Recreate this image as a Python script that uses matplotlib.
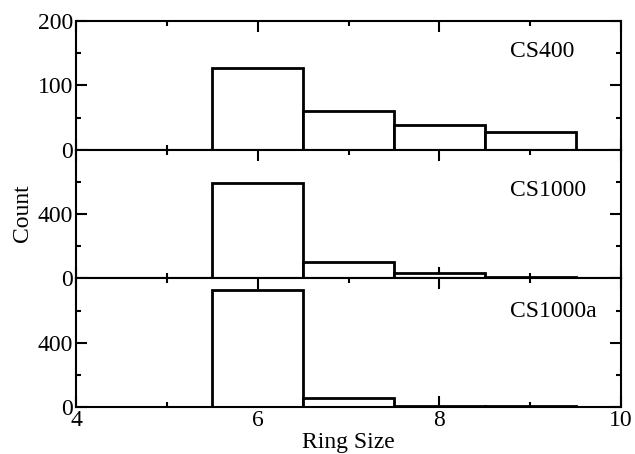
import matplotlib
matplotlib.use('Agg')
import matplotlib.pyplot as plt
from matplotlib.ticker import MultipleLocator, FixedLocator

plt.rcParams['font.family'] = 'Liberation Serif'
plt.rcParams['font.size'] = 17

# Ring size distributions for the three structures
ring_size = [4, 5, 6, 7, 8, 9]
cs400 = [0, 0, 127, 60, 38, 27]
cs1000 = [0, 0, 590, 104, 36, 9]
cs1000a = [0, 0, 729, 55, 8, 4]

names = ['CS400', 'CS1000', 'CS1000a']
counts = [cs400, cs1000, cs1000a]
ylims = [(0, 200), (0, 800), (0, 800)]
yticks = [[0, 100, 200], [0, 400], [0, 400]]
yminor = [[50, 150], [200, 600], [200, 600]]
label_y = [0.76, 0.685, 0.746]

fig = plt.figure(figsize=(6.35, 4.54), dpi=100)
gs = fig.add_gridspec(3, 1, left=0.1197, right=0.978, top=0.9537, bottom=0.1035,
                      hspace=0)
axes = [fig.add_subplot(gs[i]) for i in range(3)]

for i, ax in enumerate(axes):
    ax.bar(ring_size, counts[i], width=1.0, facecolor='white',
           edgecolor='black', linewidth=2.0, zorder=2)
    ax.set_xlim(4, 10)
    ax.set_ylim(*ylims[i])
    ax.yaxis.set_major_locator(FixedLocator(yticks[i]))
    ax.yaxis.set_minor_locator(FixedLocator(yminor[i]))
    ax.xaxis.set_major_locator(MultipleLocator(2))
    ax.xaxis.set_minor_locator(MultipleLocator(1))
    ax.tick_params(which='both', direction='in', top=True, right=True,
                   width=1.5, labelsize=17, pad=2)
    ax.tick_params(which='major', length=8)
    ax.tick_params(which='minor', length=3.5)
    for s in ax.spines.values():
        s.set_linewidth(1.5)
    if i < 2:
        ax.tick_params(labelbottom=False)
    ax.text(0.796, label_y[i], names[i], transform=ax.transAxes,
            ha='left', va='center', fontsize=17)

axes[2].set_xlabel('Ring Size', fontsize=17, labelpad=1)
fig.text(0.035, 0.53, 'Count', rotation=90, ha='center', va='center', fontsize=17)

fig.savefig('out.png', dpi=100)
